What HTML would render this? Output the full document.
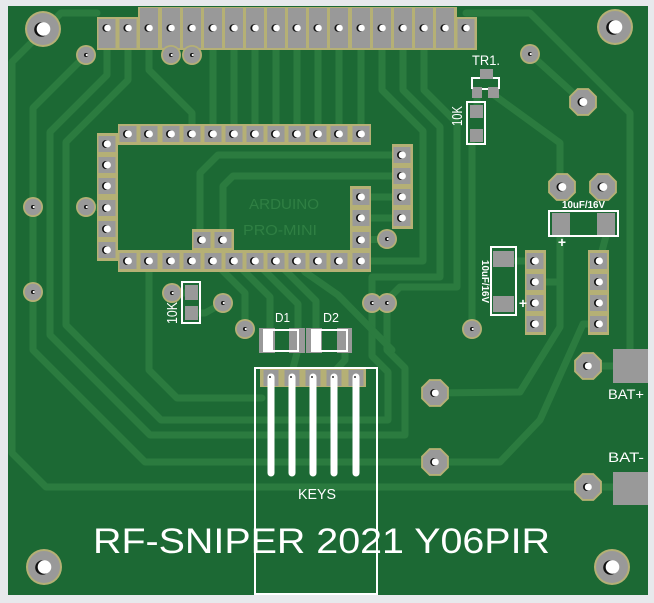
<!DOCTYPE html>
<html><head><meta charset="utf-8"><style>
html,body{margin:0;padding:0;background:#e7e9ec;}
svg{display:block}
text{font-family:"Liberation Sans",sans-serif;}
</style></head><body>
<svg width="654" height="603" viewBox="0 0 654 603" xmlns="http://www.w3.org/2000/svg">
<rect width="654" height="603" fill="#e7e9ec"/>
<rect x="8" y="6" width="640" height="589" fill="#1c6934"/>

<!-- traces -->
<g fill="none" stroke="#2b7b3f" stroke-width="7" stroke-linejoin="round" stroke-linecap="round">
<polyline points="97,13 61,13 12,62 12,453 46,487 613,487"/>
<polyline points="86,55 33,108 33,350 145,462 435,462"/>
<polyline points="107,48 107,75 50,132 50,335 150,435 405,435 405,368 387,350 387,303"/>
<polyline points="128,48 128,80 66,142 66,325 161,420 388,420 388,372 372,356 372,303"/>
<polyline points="149,261 149,370 177,398 262,398"/>
<polyline points="213,48 213,124"/><polyline points="234,48 234,124"/><polyline points="255,48 255,124"/>
<polyline points="276,48 276,124"/><polyline points="297,48 297,124"/><polyline points="318,48 318,124"/>
<polyline points="339,48 339,124"/><polyline points="361,48 361,124"/>
<polyline points="149,48 149,70 192,113 192,124"/>
<polyline points="382,48 382,90 423,131 423,261 361,261"/>
<polyline points="403,48 403,90 440,127 440,277 372,277 372,303"/>
<polyline points="424,48 424,90 457,123 457,287 400,287 387,300"/>
<polyline points="392,155 218,155 200,173 200,240"/>
<polyline points="392,176 233,176 223,186 223,240"/>
<polyline points="361,197 402,197"/><polyline points="361,218 402,218"/><polyline points="361,240 387,239"/>
<polyline points="107,208 86,207"/>
<polyline points="172,293 191,293"/><polyline points="191,313 205,313 223,303"/>
<polyline points="213,261 245,293 245,329"/>
<polyline points="234,261 270,297 270,328"/>
<polyline points="255,261 298,304 298,328"/>
<polyline points="276,261 316,301 316,328"/>
<polyline points="297,353 292,372"/><polyline points="345,353 345,360 334,372"/>
<polyline points="297,261 305,272 338,295 392,350"/>
<polyline points="472,144 472,329"/>
<polyline points="477,98 477,105"/>
<polyline points="494,95 560,143 560,187"/>
<polyline points="530,54 583,102"/>
<polyline points="466,13 530,13 630,113 630,349"/>
<polyline points="560,236 560,327 520,392 435,393"/>
<polyline points="546,282 560,282"/>
<polyline points="599,324 583,324 540,420 500,462 435,462"/>
<polyline points="516,261 525,261"/>
<polyline points="606,236 602,251"/>
<polyline points="588,366 613,366"/>
</g>

<!-- top header gold -->
<g fill="#b5b075">
<rect x="97" y="17" width="42" height="33"/>
<rect x="138" y="7" width="319" height="43"/>
<rect x="456" y="17" width="21" height="33"/>
</g>
<g fill="#999">
<rect x="98.5" y="19" width="17" height="29"/>
<rect x="119.5" y="19" width="17" height="29"/>
<rect x="140" y="8" width="18" height="40"/><rect x="162" y="8" width="18" height="40"/>
<rect x="183" y="8" width="18" height="40"/><rect x="204" y="8" width="18" height="40"/>
<rect x="225" y="8" width="18" height="40"/><rect x="246" y="8" width="18" height="40"/>
<rect x="267" y="8" width="18" height="40"/><rect x="288" y="8" width="18" height="40"/>
<rect x="309" y="8" width="18" height="40"/><rect x="330" y="8" width="18" height="40"/>
<rect x="352" y="8" width="18" height="40"/><rect x="373" y="8" width="18" height="40"/>
<rect x="394" y="8" width="18" height="40"/><rect x="415" y="8" width="18" height="40"/>
<rect x="436" y="8" width="18" height="40"/>
<rect x="457.5" y="19" width="17" height="29"/>
</g>

<!-- arduino gold strips -->
<g fill="#b5b075">
<rect x="118" y="124" width="253" height="21"/>
<rect x="97" y="133" width="21" height="128"/>
<rect x="118" y="250" width="253" height="22"/>
<rect x="192" y="229" width="42" height="22"/>
<rect x="350" y="186" width="21" height="86"/>
<rect x="392" y="144" width="21" height="85"/>
<rect x="525" y="250" width="21" height="85"/>
<rect x="588" y="250" width="21" height="85"/>
<rect x="260" y="368" width="106" height="19"/>
</g>
<g fill="#999">
<!-- top row -->
<rect x="119.5" y="126" width="17" height="16"/><rect x="140.5" y="126" width="17" height="16"/>
<rect x="162.5" y="126" width="17" height="16"/><rect x="183.5" y="126" width="17" height="16"/>
<rect x="204.5" y="126" width="17" height="16"/><rect x="225.5" y="126" width="17" height="16"/>
<rect x="246.5" y="126" width="17" height="16"/><rect x="267.5" y="126" width="17" height="16"/>
<rect x="288.5" y="126" width="17" height="16"/><rect x="309.5" y="126" width="17" height="16"/>
<rect x="330.5" y="126" width="17" height="16"/><rect x="352.5" y="126" width="17" height="16"/>
<!-- bottom row -->
<rect x="119.5" y="253" width="17" height="16"/><rect x="140.5" y="253" width="17" height="16"/>
<rect x="162.5" y="253" width="17" height="16"/><rect x="183.5" y="253" width="17" height="16"/>
<rect x="204.5" y="253" width="17" height="16"/><rect x="225.5" y="253" width="17" height="16"/>
<rect x="246.5" y="253" width="17" height="16"/><rect x="267.5" y="253" width="17" height="16"/>
<rect x="288.5" y="253" width="17" height="16"/><rect x="309.5" y="253" width="17" height="16"/>
<rect x="330.5" y="253" width="17" height="16"/><rect x="352.5" y="253" width="17" height="16"/>
<!-- left col -->
<rect x="98.5" y="136" width="17" height="16"/><rect x="98.5" y="157" width="17" height="16"/>
<rect x="98.5" y="178" width="17" height="16"/><rect x="98.5" y="200" width="17" height="16"/>
<rect x="98.5" y="221" width="17" height="16"/><rect x="98.5" y="242" width="17" height="16"/>
<!-- extra -->
<rect x="193.5" y="232" width="17" height="16"/><rect x="214.5" y="232" width="17" height="16"/>
<!-- right col -->
<rect x="352.5" y="189" width="17" height="16"/><rect x="352.5" y="210" width="17" height="16"/>
<rect x="352.5" y="232" width="17" height="16"/>
<!-- col 402 -->
<rect x="393.5" y="147" width="17" height="16"/><rect x="393.5" y="168" width="17" height="16"/>
<rect x="393.5" y="189" width="17" height="16"/><rect x="393.5" y="210" width="17" height="16"/>
<!-- col 535 -->
<rect x="526.5" y="253" width="17" height="16"/><rect x="526.5" y="274" width="17" height="16"/>
<rect x="526.5" y="295" width="17" height="16"/><rect x="526.5" y="316" width="17" height="16"/>
<!-- col 599 -->
<rect x="590" y="253" width="17" height="16"/><rect x="590" y="274" width="17" height="16"/>
<rect x="590" y="295" width="17" height="16"/><rect x="590" y="316" width="17" height="16"/>
<!-- keys pads -->
<rect x="263.5" y="370" width="15" height="16"/><rect x="284.5" y="370" width="15" height="16"/>
<rect x="305.5" y="370" width="15" height="16"/><rect x="326.5" y="370" width="15" height="16"/>
<rect x="348.5" y="370" width="15" height="16"/>
<!-- BAT pads -->
<rect x="613" y="349" width="35" height="34"/>
<rect x="613" y="472" width="35" height="33"/>
</g>

<!-- pad holes -->
<g>
<g fill="#111">
<circle cx="106.2" cy="28" r="3.8"/><circle cx="127.2" cy="28" r="3.8"/><circle cx="148.2" cy="28" r="3.8"/>
<circle cx="170.2" cy="28" r="3.8"/><circle cx="191.2" cy="28" r="3.8"/><circle cx="212.2" cy="28" r="3.8"/>
<circle cx="233.2" cy="28" r="3.8"/><circle cx="254.2" cy="28" r="3.8"/><circle cx="275.2" cy="28" r="3.8"/>
<circle cx="296.2" cy="28" r="3.8"/><circle cx="317.2" cy="28" r="3.8"/><circle cx="338.2" cy="28" r="3.8"/>
<circle cx="360.2" cy="28" r="3.8"/><circle cx="381.2" cy="28" r="3.8"/><circle cx="402.2" cy="28" r="3.8"/>
<circle cx="423.2" cy="28" r="3.8"/><circle cx="444.2" cy="28" r="3.8"/><circle cx="465.2" cy="28" r="3.8"/>
</g>
<g fill="#fff">
<circle cx="107.5" cy="28" r="3.3"/><circle cx="128.5" cy="28" r="3.3"/><circle cx="149.5" cy="28" r="3.3"/>
<circle cx="171.5" cy="28" r="3.3"/><circle cx="192.5" cy="28" r="3.3"/><circle cx="213.5" cy="28" r="3.3"/>
<circle cx="234.5" cy="28" r="3.3"/><circle cx="255.5" cy="28" r="3.3"/><circle cx="276.5" cy="28" r="3.3"/>
<circle cx="297.5" cy="28" r="3.3"/><circle cx="318.5" cy="28" r="3.3"/><circle cx="339.5" cy="28" r="3.3"/>
<circle cx="361.5" cy="28" r="3.3"/><circle cx="382.5" cy="28" r="3.3"/><circle cx="403.5" cy="28" r="3.3"/>
<circle cx="424.5" cy="28" r="3.3"/><circle cx="445.5" cy="28" r="3.3"/><circle cx="466.5" cy="28" r="3.3"/>
</g>
<g fill="#111">
<circle cx="127" cy="134" r="4"/><circle cx="148" cy="134" r="4"/><circle cx="170" cy="134" r="4"/>
<circle cx="191" cy="134" r="4"/><circle cx="212" cy="134" r="4"/><circle cx="233" cy="134" r="4"/>
<circle cx="254" cy="134" r="4"/><circle cx="275" cy="134" r="4"/><circle cx="296" cy="134" r="4"/>
<circle cx="317" cy="134" r="4"/><circle cx="338" cy="134" r="4"/><circle cx="360" cy="134" r="4"/>
<circle cx="127" cy="261" r="4"/><circle cx="148" cy="261" r="4"/><circle cx="170" cy="261" r="4"/>
<circle cx="191" cy="261" r="4"/><circle cx="212" cy="261" r="4"/><circle cx="233" cy="261" r="4"/>
<circle cx="254" cy="261" r="4"/><circle cx="275" cy="261" r="4"/><circle cx="296" cy="261" r="4"/>
<circle cx="317" cy="261" r="4"/><circle cx="338" cy="261" r="4"/><circle cx="360" cy="261" r="4"/>
<circle cx="106" cy="144" r="4"/><circle cx="106" cy="165" r="4"/><circle cx="106" cy="186" r="4"/>
<circle cx="106" cy="208" r="4"/><circle cx="106" cy="229" r="4"/><circle cx="106" cy="250" r="4"/>
<circle cx="201" cy="240" r="4"/><circle cx="222" cy="240" r="4"/>
<circle cx="360" cy="197" r="4"/><circle cx="360" cy="218" r="4"/><circle cx="360" cy="240" r="4"/>
<circle cx="401" cy="155" r="4"/><circle cx="401" cy="176" r="4"/><circle cx="401" cy="197" r="4"/><circle cx="401" cy="218" r="4"/>
<circle cx="534" cy="261" r="4"/><circle cx="534" cy="282" r="4"/><circle cx="534" cy="303" r="4"/><circle cx="534" cy="324" r="4"/>
<circle cx="598" cy="261" r="4"/><circle cx="598" cy="282" r="4"/><circle cx="598" cy="303" r="4"/><circle cx="598" cy="324" r="4"/>
</g>
<g fill="#fff">
<circle cx="128.3" cy="134" r="3.6"/><circle cx="149.3" cy="134" r="3.6"/><circle cx="171.3" cy="134" r="3.6"/>
<circle cx="192.3" cy="134" r="3.6"/><circle cx="213.3" cy="134" r="3.6"/><circle cx="234.3" cy="134" r="3.6"/>
<circle cx="255.3" cy="134" r="3.6"/><circle cx="276.3" cy="134" r="3.6"/><circle cx="297.3" cy="134" r="3.6"/>
<circle cx="318.3" cy="134" r="3.6"/><circle cx="339.3" cy="134" r="3.6"/><circle cx="361.3" cy="134" r="3.6"/>
<circle cx="128.3" cy="261" r="3.6"/><circle cx="149.3" cy="261" r="3.6"/><circle cx="171.3" cy="261" r="3.6"/>
<circle cx="192.3" cy="261" r="3.6"/><circle cx="213.3" cy="261" r="3.6"/><circle cx="234.3" cy="261" r="3.6"/>
<circle cx="255.3" cy="261" r="3.6"/><circle cx="276.3" cy="261" r="3.6"/><circle cx="297.3" cy="261" r="3.6"/>
<circle cx="318.3" cy="261" r="3.6"/><circle cx="339.3" cy="261" r="3.6"/><circle cx="361.3" cy="261" r="3.6"/>
<circle cx="107.3" cy="144" r="3.6"/><circle cx="107.3" cy="165" r="3.6"/><circle cx="107.3" cy="186" r="3.6"/>
<circle cx="107.3" cy="208" r="3.6"/><circle cx="107.3" cy="229" r="3.6"/><circle cx="107.3" cy="250" r="3.6"/>
<circle cx="202.3" cy="240" r="3.6"/><circle cx="223.3" cy="240" r="3.6"/>
<circle cx="361.3" cy="197" r="3.6"/><circle cx="361.3" cy="218" r="3.6"/><circle cx="361.3" cy="240" r="3.6"/>
<circle cx="402.3" cy="155" r="3.6"/><circle cx="402.3" cy="176" r="3.6"/><circle cx="402.3" cy="197" r="3.6"/><circle cx="402.3" cy="218" r="3.6"/>
<circle cx="535.3" cy="261" r="3.6"/><circle cx="535.3" cy="282" r="3.6"/><circle cx="535.3" cy="303" r="3.6"/><circle cx="535.3" cy="324" r="3.6"/>
<circle cx="599.3" cy="261" r="3.6"/><circle cx="599.3" cy="282" r="3.6"/><circle cx="599.3" cy="303" r="3.6"/><circle cx="599.3" cy="324" r="3.6"/>
</g>
</g>

<!-- vias -->
<g fill="#b5b075">
<circle cx="86" cy="55" r="10"/><circle cx="171" cy="55" r="10"/><circle cx="192" cy="55" r="10"/>
<circle cx="530" cy="54" r="10"/><circle cx="33" cy="207" r="10"/><circle cx="86" cy="207" r="10"/>
<circle cx="387" cy="239" r="10"/><circle cx="33" cy="292" r="10"/><circle cx="172" cy="293" r="10"/>
<circle cx="223" cy="303" r="10"/><circle cx="245" cy="329" r="10"/><circle cx="372" cy="303" r="10"/>
<circle cx="387" cy="303" r="10"/><circle cx="472" cy="329" r="10"/>
</g>
<g fill="#999">
<circle cx="86" cy="55" r="8.3"/><circle cx="171" cy="55" r="8.3"/><circle cx="192" cy="55" r="8.3"/>
<circle cx="530" cy="54" r="8.3"/><circle cx="33" cy="207" r="8.3"/><circle cx="86" cy="207" r="8.3"/>
<circle cx="387" cy="239" r="8.3"/><circle cx="33" cy="292" r="8.3"/><circle cx="172" cy="293" r="8.3"/>
<circle cx="223" cy="303" r="8.3"/><circle cx="245" cy="329" r="8.3"/><circle cx="372" cy="303" r="8.3"/>
<circle cx="387" cy="303" r="8.3"/><circle cx="472" cy="329" r="8.3"/>
</g>
<g fill="#111">
<circle cx="86" cy="55" r="2"/><circle cx="171" cy="55" r="2"/><circle cx="192" cy="55" r="2"/>
<circle cx="530" cy="54" r="2"/><circle cx="33" cy="207" r="2"/><circle cx="86" cy="207" r="2"/>
<circle cx="387" cy="239" r="2"/><circle cx="33" cy="292" r="2"/><circle cx="172" cy="293" r="2"/>
<circle cx="223" cy="303" r="2"/><circle cx="245" cy="329" r="2"/><circle cx="372" cy="303" r="2"/>
<circle cx="387" cy="303" r="2"/><circle cx="472" cy="329" r="2"/>
</g>
<g fill="#fff">
<circle cx="86.8" cy="55" r="1.1"/><circle cx="171.8" cy="55" r="1.1"/><circle cx="192.8" cy="55" r="1.1"/>
<circle cx="530.8" cy="54" r="1.1"/><circle cx="33.8" cy="207" r="1.1"/><circle cx="86.8" cy="207" r="1.1"/>
<circle cx="387.8" cy="239" r="1.1"/><circle cx="33.8" cy="292" r="1.1"/><circle cx="172.8" cy="293" r="1.1"/>
<circle cx="223.8" cy="303" r="1.1"/><circle cx="245.8" cy="329" r="1.1"/><circle cx="372.8" cy="303" r="1.1"/>
<circle cx="387.8" cy="303" r="1.1"/><circle cx="472.8" cy="329" r="1.1"/>
</g>

<!-- octagon pads -->
<g>
<g transform="translate(583,102)"><polygon fill="#b5b075" points="13.9,5.7 5.7,13.9 -5.7,13.9 -13.9,5.7 -13.9,-5.7 -5.7,-13.9 5.7,-13.9 13.9,-5.7"/><polygon fill="#999" points="12,5 5,12 -5,12 -12,5 -12,-5 -5,-12 5,-12 12,-5"/><circle cx="-1" cy="0" r="4.5" fill="#111"/><circle cx="0.3" cy="0" r="4" fill="#fff"/></g>
<g transform="translate(562,187)"><polygon fill="#b5b075" points="13.9,5.7 5.7,13.9 -5.7,13.9 -13.9,5.7 -13.9,-5.7 -5.7,-13.9 5.7,-13.9 13.9,-5.7"/><polygon fill="#999" points="12,5 5,12 -5,12 -12,5 -12,-5 -5,-12 5,-12 12,-5"/><circle cx="-1" cy="0" r="4.5" fill="#111"/><circle cx="0.3" cy="0" r="4" fill="#fff"/></g>
<g transform="translate(603,187)"><polygon fill="#b5b075" points="13.9,5.7 5.7,13.9 -5.7,13.9 -13.9,5.7 -13.9,-5.7 -5.7,-13.9 5.7,-13.9 13.9,-5.7"/><polygon fill="#999" points="12,5 5,12 -5,12 -12,5 -12,-5 -5,-12 5,-12 12,-5"/><circle cx="-1" cy="0" r="4.5" fill="#111"/><circle cx="0.3" cy="0" r="4" fill="#fff"/></g>
<g transform="translate(588,366)"><polygon fill="#b5b075" points="13.9,5.7 5.7,13.9 -5.7,13.9 -13.9,5.7 -13.9,-5.7 -5.7,-13.9 5.7,-13.9 13.9,-5.7"/><polygon fill="#999" points="12,5 5,12 -5,12 -12,5 -12,-5 -5,-12 5,-12 12,-5"/><circle cx="-1" cy="0" r="4" fill="#111"/><circle cx="0.3" cy="0" r="3.5" fill="#fff"/></g>
<g transform="translate(588,487)"><polygon fill="#b5b075" points="13.9,5.7 5.7,13.9 -5.7,13.9 -13.9,5.7 -13.9,-5.7 -5.7,-13.9 5.7,-13.9 13.9,-5.7"/><polygon fill="#999" points="12,5 5,12 -5,12 -12,5 -12,-5 -5,-12 5,-12 12,-5"/><circle cx="-1" cy="0" r="4" fill="#111"/><circle cx="0.3" cy="0" r="3.5" fill="#fff"/></g>
<g transform="translate(435,393)"><polygon fill="#b5b075" points="13.9,5.7 5.7,13.9 -5.7,13.9 -13.9,5.7 -13.9,-5.7 -5.7,-13.9 5.7,-13.9 13.9,-5.7"/><polygon fill="#999" points="12,5 5,12 -5,12 -12,5 -12,-5 -5,-12 5,-12 12,-5"/><circle cx="-0.8" cy="0" r="4" fill="#111"/><circle cx="0.3" cy="0" r="3.5" fill="#fff"/></g>
<g transform="translate(435,462)"><polygon fill="#b5b075" points="13.9,5.7 5.7,13.9 -5.7,13.9 -13.9,5.7 -13.9,-5.7 -5.7,-13.9 5.7,-13.9 13.9,-5.7"/><polygon fill="#999" points="12,5 5,12 -5,12 -12,5 -12,-5 -5,-12 5,-12 12,-5"/><circle cx="-0.8" cy="0" r="4" fill="#111"/><circle cx="0.3" cy="0" r="3.5" fill="#fff"/></g>
</g>

<!-- mounting holes -->
<g>
<g transform="translate(43,29)"><circle r="18" fill="#b5b075"/><circle r="16" fill="#999"/><circle cx="-1.5" cy="0.5" r="7.3" fill="#111"/><circle cx="0.5" cy="0" r="6.8" fill="#fff"/></g>
<g transform="translate(615,27)"><circle r="18" fill="#b5b075"/><circle r="16" fill="#999"/><circle cx="-1.5" cy="0.5" r="7.3" fill="#111"/><circle cx="0.5" cy="0" r="6.8" fill="#fff"/></g>
<g transform="translate(44,567)"><circle r="18" fill="#b5b075"/><circle r="16" fill="#999"/><circle cx="-1.5" cy="0.5" r="7.3" fill="#111"/><circle cx="0.5" cy="0" r="6.8" fill="#fff"/></g>
<g transform="translate(612,567)"><circle r="18" fill="#b5b075"/><circle r="16" fill="#999"/><circle cx="-1.5" cy="0.5" r="7.3" fill="#111"/><circle cx="0.5" cy="0" r="6.8" fill="#fff"/></g>
</g>

<!-- SMD components -->
<g fill="#999">
<rect x="480" y="69" width="13" height="10"/>
<rect x="472" y="87" width="10" height="11"/><rect x="488" y="87" width="11" height="11"/>
<rect x="470" y="105" width="13" height="13"/><rect x="470" y="129" width="13" height="13"/>
<rect x="185" y="285" width="13" height="15"/><rect x="185" y="306" width="13" height="14"/>
<rect x="552" y="213" width="18" height="22"/><rect x="597" y="213" width="18" height="22"/>
<rect x="493" y="251" width="21" height="16"/><rect x="493" y="296" width="21" height="16"/>
<rect x="259" y="328" width="16" height="25"/><rect x="289" y="328" width="16" height="25"/>
<rect x="306" y="328" width="16" height="25"/><rect x="337" y="328" width="15" height="25"/>
</g>

<!-- silkscreen -->
<g fill="none" stroke="#fff" stroke-width="2">
<polyline points="480,78 472,78 472,89"/><polyline points="493,78 499,78 499,89"/>
<line x1="482" y1="89" x2="488" y2="89"/>
<rect x="467" y="102" width="18" height="42"/>
<rect x="182" y="282" width="18" height="41"/>
<rect x="549" y="211" width="69" height="25"/>
<rect x="491" y="247" width="25" height="68"/>
<rect x="264" y="330" width="34" height="21"/>
<rect x="312" y="330" width="35" height="21"/>
<rect x="255" y="368" width="122" height="226"/>
</g>
<g fill="#fff">
<rect x="264" y="329" width="9" height="23"/>
<rect x="312" y="329" width="9" height="23"/>
</g>
<g stroke="#fff" stroke-width="7" stroke-linecap="round">
<line x1="271" y1="377" x2="271" y2="473"/><line x1="292" y1="377" x2="292" y2="473"/>
<line x1="313" y1="377" x2="313" y2="473"/><line x1="334" y1="377" x2="334" y2="473"/>
<line x1="356" y1="377" x2="356" y2="473"/>
</g>
<g fill="#333">
<circle cx="270" cy="377" r="1"/><circle cx="291" cy="377" r="1"/><circle cx="312" cy="377" r="1"/><circle cx="333" cy="377" r="1"/><circle cx="355" cy="377" r="1"/>
</g>

<!-- text -->
<g fill="#2f7f43">
<text x="249" y="209" font-size="15" textLength="70" lengthAdjust="spacingAndGlyphs">ARDUINO</text>
<text x="243" y="235" font-size="15" textLength="74" lengthAdjust="spacingAndGlyphs">PRO-MINI</text>
</g>
<g fill="#fff">
<text x="472" y="65" font-size="14" textLength="28" lengthAdjust="spacingAndGlyphs">TR1.</text>
<text transform="translate(462,126) rotate(-90)" font-size="15" textLength="20" lengthAdjust="spacingAndGlyphs">10K</text>
<text transform="translate(177,324) rotate(-90)" font-size="15" textLength="22" lengthAdjust="spacingAndGlyphs">10K</text>
<text x="562" y="208" font-size="10" font-weight="bold" textLength="43" lengthAdjust="spacingAndGlyphs">10uF/16V</text>
<text transform="translate(482,260) rotate(90)" font-size="10" font-weight="bold" textLength="43" lengthAdjust="spacingAndGlyphs">10uF/16V</text>
<text x="562" y="247" font-size="14" font-weight="bold" text-anchor="middle">+</text>
<text x="523" y="308" font-size="14" font-weight="bold" text-anchor="middle">+</text>
<text x="275" y="322" font-size="13" textLength="15" lengthAdjust="spacingAndGlyphs">D1</text>
<text x="323" y="322" font-size="13" textLength="16" lengthAdjust="spacingAndGlyphs">D2</text>
<text x="298" y="499" font-size="15" textLength="38" lengthAdjust="spacingAndGlyphs">KEYS</text>
<text x="608" y="399" font-size="14" textLength="36" lengthAdjust="spacingAndGlyphs">BAT+</text>
<text x="608" y="462" font-size="14" textLength="36" lengthAdjust="spacingAndGlyphs">BAT-</text>
<text x="93" y="553" font-size="35" textLength="457" lengthAdjust="spacingAndGlyphs">RF-SNIPER 2021 Y06PIR</text>
</g>
</svg>
</body></html>
